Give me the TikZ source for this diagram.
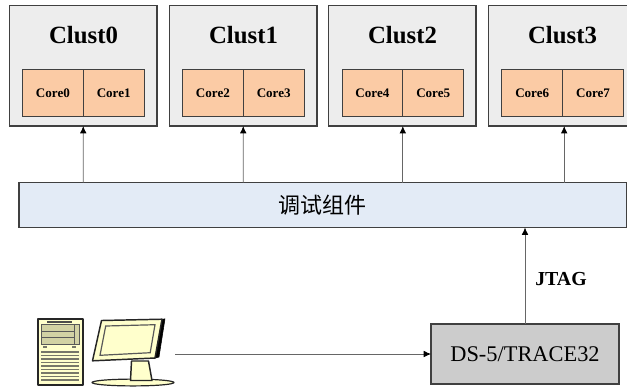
\documentclass[tikz,border=0pt]{standalone}
\usepackage{xcolor}
\usepackage{fontspec}
\setmainfont{Liberation Serif}
\newfontfamily\cjk{Noto Sans CJK SC}
\usetikzlibrary{arrows.meta}

\definecolor{clustgray}{HTML}{EDEDED}
\definecolor{coreorange}{HTML}{FBCBA5}
\definecolor{barblue}{HTML}{E3EBF6}
\definecolor{dsgray}{HTML}{CCCCCC}
\definecolor{edgegray}{HTML}{404040}
\definecolor{linkgray}{HTML}{666666}
\definecolor{pccream}{HTML}{FFFFCC}
\definecolor{pcolive}{HTML}{D2D2A4}
\definecolor{slatgray}{HTML}{77776A}

\tikzset{
  clustbox/.style={draw=edgegray,fill=clustgray,line width=0.9pt,anchor=north west,inner sep=0pt,outer sep=0pt,minimum width=110.6pt,minimum height=90.4pt},
  corebox/.style={draw=edgegray,fill=coreorange,line width=0.75pt,anchor=north west,inner sep=0pt,outer sep=0pt,minimum width=45.6pt,minimum height=35.25pt,font=\fontsize{9.8pt}{11pt}\selectfont\bfseries},
  clusttext/.style={inner sep=0pt,font=\fontsize{18.6pt}{21pt}\selectfont\bfseries},
  link/.style={draw=linkgray,line width=0.6pt,-{Latex[length=5.5pt,width=5pt,color=black]}},
  pcline/.style={draw=black!85,line width=1.1pt,fill=pccream,line join=round},
  slat/.style={draw=slatgray,line width=1.1pt},
  bayline/.style={draw=black!65,line width=0.5pt},
}

\begin{document}
\begin{tikzpicture}[x=0.75pt,y=0.75pt,yscale=-1,xscale=1]
\useasboundingbox (0,0) rectangle (627,387);

%Shape: Rectangle clusters
\node [clustbox] (clust0) at (9.5,5.5) {};
\node [clustbox] (clust1) at (169.5,5.5) {};
\node [clustbox] (clust2) at (328.5,5.5) {};
\node [clustbox] (clust3) at (488.5,5.5) {};

%Shape: Rectangle cores
\node [corebox] (core0) at (22.5,69.5) {Core0};
\node [corebox] (core1) at (83.3,69.5) {Core1};
\node [corebox] (core2) at (182.5,69.5) {Core2};
\node [corebox] (core3) at (243.3,69.5) {Core3};
\node [corebox] (core4) at (342,69.5) {Core4};
\node [corebox] (core5) at (402.8,69.5) {Core5};
\node [corebox] (core6) at (501.8,69.5) {Core6};
\node [corebox] (core7) at (562.6,69.5) {Core7};

%Shape: Rectangle debug bar
\node [draw=edgegray,fill=barblue,line width=0.9pt,anchor=north west,inner sep=0pt,outer sep=0pt,minimum width=455.6pt,minimum height=33.75pt,font=\fontsize{16.5pt}{19pt}\selectfont\cjk] (bar) at (19,182.5) {调试组件};

%Shape: Rectangle debugger
\node [draw=edgegray,fill=dsgray,line width=0.9pt,anchor=north west,inner sep=0pt,outer sep=0pt,minimum width=141pt,minimum height=45pt,font=\fontsize{16.8pt}{19pt}\selectfont] (ds) at (431,324) {DS-5/TRACE32};

% Text Node
\node [clusttext] (title0) at (83.5,35) {Clust0};
% Text Node
\node [clusttext] (title1) at (243.5,35) {Clust1};
% Text Node
\node [clusttext] (title2) at (402.5,35) {Clust2};
% Text Node
\node [clusttext] (title3) at (562.5,35) {Clust3};
% Text Node
\node [inner sep=0pt,font=\fontsize{14.9pt}{17pt}\selectfont\bfseries] (jtag) at (561,279) {JTAG};

%Straight Lines
\coordinate (pc) at (175,354);
\draw [link] (bar.north -| core0.east) -- (clust0.south);
\draw [link] (bar.north -| core2.east) -- (clust1.south);
\draw [link] (bar.north -| core4.east) -- (clust2.south -| core4.east);
\draw [link] ([xshift=1.2pt]bar.north -| core6.east) -- ([xshift=1.2pt]clust3.south -| core6.east);
\draw [link] (ds.north) -- (bar.south -| ds.north);
\draw [link] (pc) -- (ds.west);

%Shape: tower
\draw [pcline] (38,319) -- (83,319) -- (83,385) -- (38,385) -- cycle ;
\draw [bayline,fill=pcolive] (41,324) -- (79.5,324) -- (79.5,344) -- (41,344) -- cycle ;
\draw [bayline] (74,324) -- (74,344) ;
\draw [bayline] (41,331) -- (74,331) ;
\draw [bayline] (41,337) -- (74,337) ;
\draw [draw=black!70,line width=0.8pt] (47,322) -- (72,322) ;
\draw [draw=slatgray,line width=1pt] (43,347) -- (47,347) ;
\draw [draw=slatgray,line width=1pt] (72,347) -- (76,347) ;
\draw [slat] (41,352) -- (79,352) ;
\draw [slat] (41,355.5) -- (79,355.5) ;
\draw [slat] (41,359) -- (79,359) ;
\draw [slat] (41,362.5) -- (79,362.5) ;
\draw [slat] (41,366) -- (79,366) ;
\draw [slat] (41,369.5) -- (79,369.5) ;
\draw [slat] (41,373) -- (79,373) ;
\draw [slat] (41,376.5) -- (79,376.5) ;
\draw [slat] (41,380) -- (79,380) ;

%Shape: monitor
\draw [pcline,line width=0.9pt] (133,382.5) ellipse (41 and 3.4) ;
\draw [pcline] (131.5,361) -- (148.5,361) -- (152,380.5) -- (130.5,380.5) -- cycle ;
\draw [fill=black,draw=black,line join=round] (161,319.5) -- (165,318.8) -- (159,357) -- (154,358.5) -- cycle ;
\draw [pcline] (101.5,320.5) -- (162,319.2) -- (155,358) -- (92.5,360.8) -- cycle ;
\draw [draw=black!65,line width=0.9pt,fill=pccream] (105.7,326) -- (155,324.7) -- (150.2,352.7) -- (100,355.3) -- cycle ;

\end{tikzpicture}
\end{document}
